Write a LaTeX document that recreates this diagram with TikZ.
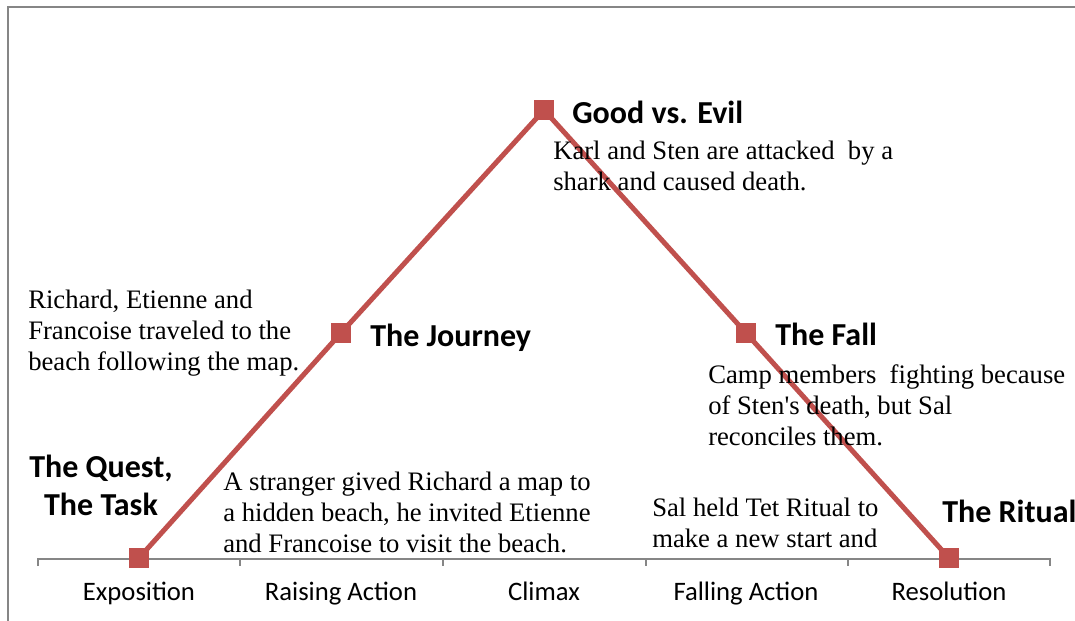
\documentclass[tikz,border=0pt]{standalone}
\usepackage{fontspec}
\setmainfont{Liberation Serif}
\newfontfamily\calibri{Carlito}
\usetikzlibrary{positioning}
\definecolor{plotred}{HTML}{C0504D}
\definecolor{axisgray}{HTML}{868686}

\begin{document}
\begin{tikzpicture}[x=0.75pt,y=-0.75pt,
sqmark/.style={shape=rectangle,fill=plotred,minimum size=15pt,inner sep=0pt},
stage/.style={font=\calibri\bfseries\fontsize{24}{28.5}\selectfont,inner sep=0pt},
story/.style={font=\fontsize{20}{23.25}\selectfont,align=left,inner sep=0pt},
phase/.style={font=\calibri\fontsize{20}{24}\selectfont,inner sep=0pt}]
\useasboundingbox(0,0)rectangle(1075,621);

% frame and axis
\draw[axisgray,line width=1.2pt](8,640)|-(1090,7);
\draw[axisgray,line width=1.2pt](38,566)--(38,559)--(1050,559)--(1050,566);
\foreach \x in {240,443,646,848}
\draw[axisgray,line width=1.2pt](\x,559)--(\x,566);

% plot line and markers
\coordinate(C1)at(139,558);
\coordinate(C2)at(341,333);
\coordinate(C3)at(544,110);
\coordinate(C4)at(746,333);
\coordinate(C5)at(949,558);
\draw[plotred,line width=3.75pt](C1)--(C2)--(C3)--(C4)--(C5);
\foreach \i in {1,...,5}
\node[sqmark](P\i)at(C\i){};

% stage titles (multi-line nodes sit on their last baseline)
\node[stage,align=center,anchor=base](L1)at(101,515){The Quest,\\The Task};
\node[stage,anchor=base west](L2)at(370,346){The Journey};
\node[stage,anchor=base west](L3)at(572,123){Good vs. Evil};
\node[stage,anchor=base west](L4)at(775,345){The Fall};
\node[stage,anchor=base west](L5)at(942,522){The Ritual};

% story texts
\node[story,anchor=base west](S1)at(223,552){A stranger gived Richard a map to\\
a hidden beach, he invited Etienne\\and Francoise to visit the beach.};
\node[story,anchor=base west](S2)at(28,370){Richard, Etienne and\\
Francoise traveled to the\\beach following the map.};
\node[story,anchor=base west](S3)at(553,190){Karl and Sten are attacked\ \ by a\\
shark and caused death.};
\node[story,anchor=base west](S4)at(708,445){Camp members\ \ fighting because\\
of Sten\textquotesingle s death, but Sal\\reconciles them.};
\node[story,anchor=base west](S5)at(652,547){Sal held Tet Ritual to\\
make a new start and};

% phase names
\foreach \x/\t [count=\k] in {139/Exposition,341/Raising Action,544/Climax,
746/Falling Action,949/Resolution}
\node[phase,anchor=base](A\k)at(\x,600){\t};
\end{tikzpicture}
\end{document}
